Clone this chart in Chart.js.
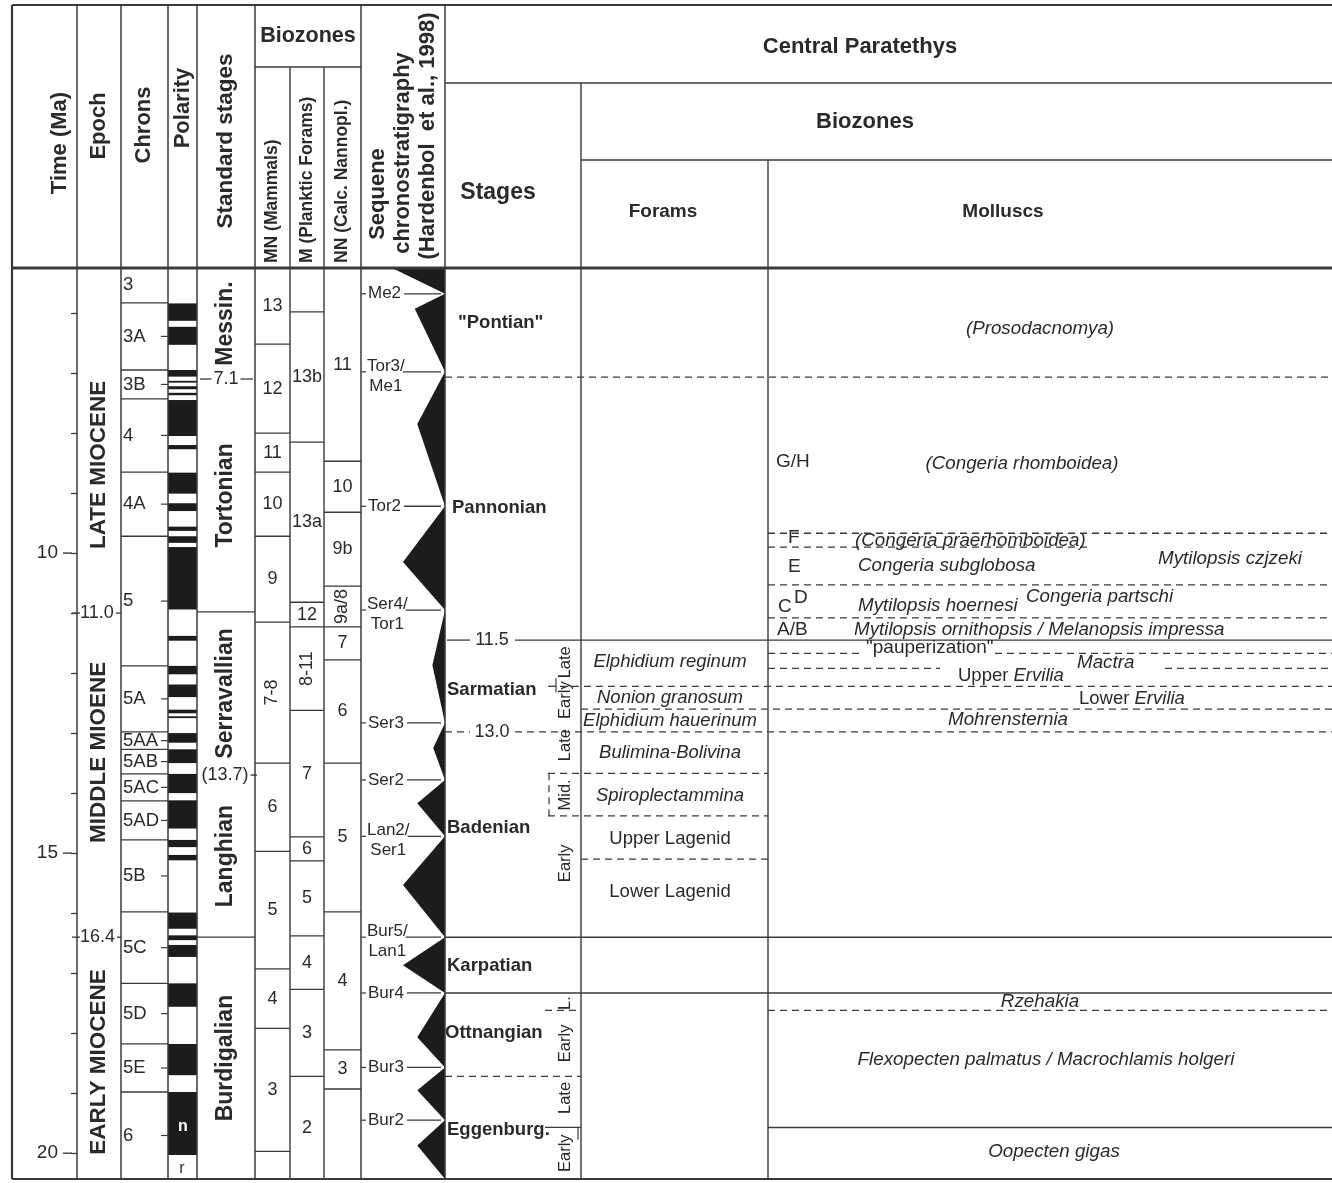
<!DOCTYPE html>
<html><head><meta charset="utf-8"><title>Miocene stratigraphy - Central Paratethys</title>
<script src="https://cdn.jsdelivr.net/npm/chart.js@4.4.1/dist/chart.umd.min.js"></script>
<style>html,body{margin:0;padding:0;background:#fff;}#c{display:block;}</style>
</head><body>
<canvas id="c" width="1332" height="1183" style="width:1332px;height:1183px"></canvas>
<script>
// ===================== DATA (ages in Ma) =====================
const ageTop = 5.25;
const ageBase = 20.43;
const timeTicks = [6,7,8,9,10,11,12,13,14,15,16,17,18,19,20];
const timeTickLabels = [10, 15, 20];
const markedAges = [11.0, 16.4];
const markedAgeLabels = ['11.0', '16.4'];

const epochNames = ['LATE MIOCENE', 'MIDDLE MIOENE', 'EARLY MIOCENE'];
const epochLabelAges = [8.53, 13.32, 18.48];

const chronNames = ['3','3A','3B','4','4A','5','5A','5AA','5AB','5AC','5AD','5B','5C','5D','5E','6'];
const chronBases = [5.83, 6.95, 7.43, 8.65, 9.72, 11.88, 12.98, 13.27, 13.68, 14.13, 14.78, 15.98, 17.17, 18.18, 18.98, 20.43];

const normalTops  = [5.84, 6.23, 6.95, 7.13, 7.22, 7.33, 7.45, 8.20, 8.66, 9.17, 9.56, 9.72, 9.90, 11.38, 11.88, 12.19, 12.61, 12.72, 13.00, 13.27, 13.68, 14.12, 14.78, 15.03, 15.99, 16.37, 16.53, 17.17, 18.18, 18.98];
const normalBases = [6.13, 6.53, 7.06, 7.16, 7.27, 7.37, 8.05, 8.27, 9.01, 9.30, 9.63, 9.83, 10.94, 11.46, 12.02, 12.40, 12.67, 12.75, 13.16, 13.50, 14.00, 14.59, 14.90, 15.12, 16.26, 16.45, 16.73, 17.56, 18.70, 20.03];
const polarityNotes = ['n', 'r'];
const polarityNoteAges = [19.55, 20.25];

const stdStageNames = ['Messin.', 'Tortonian', 'Serravallian', 'Langhian', 'Burdigalian'];
const stdStageBases = [7.1, 10.98, 13.7, 16.4, 20.43];
const stdStageBaseLabels = ['7.1', '', '(13.7)', '', ''];

const mnNames = ['13','12','11','10','9','7-8','6','5','4','3',''];
const mnBases = [6.52, 8.0, 8.65, 9.72, 11.15, 13.5, 14.97, 16.93, 17.92, 19.97, 20.43];
const mNames  = ['','13b','13a','12','8-11','7','6','5','4','3','2'];
const mBases  = [5.98, 8.15, 10.82, 11.23, 12.62, 14.73, 15.13, 16.38, 17.27, 18.72, 20.43];
const nnNames = ['11','10','9b','9a/8','7','6','5','4','3',''];
const nnBases = [8.47, 9.32, 10.55, 11.23, 11.78, 13.5, 15.98, 18.28, 18.93, 20.43];
const rotatedZoneNames = ['7-8', '8-11', '9a/8'];

const seqNames = ['Me2', 'Tor3/\nMe1', 'Tor2', 'Ser4/\nTor1', 'Ser3', 'Ser2', 'Lan2/\nSer1', 'Bur5/\nLan1', 'Bur4', 'Bur3', 'Bur2'];
const seqAges  = [5.68, 6.98, 9.22, 10.95, 12.83, 13.78, 14.72, 16.4, 17.33, 18.57, 19.45];
const seqPeakAges = [5.25, 5.93, 7.85, 10.15, 11.87, 13.25, 14.17, 15.53, 16.87, 18.07, 18.95, 19.87];
const seqPeakAmps = [0.63, 0.36, 0.33, 0.50, 0.15, 0.14, 0.33, 0.50, 0.50, 0.33, 0.33, 0.33];

const parStageNames = ['"Pontian"', 'Pannonian', 'Sarmatian', 'Badenian', 'Karpatian', 'Ottnangian', 'Eggenburg.'];
const parStageLabelAges = [6.17, 9.25, 12.28, 14.58, 16.88, 18.0, 19.62];
const parStageBases = [7.07, 11.45, 12.98, 16.4, 17.33, 18.72, 20.43];
const parStageBaseLabels = ['', '11.5', '13.0', '', '', '', ''];

const subStageNames = ['Late', 'Early', 'Late', 'Mid.', 'Early', 'L.', 'Early', 'Late', 'Early'];
const subStageLabelAges = [11.82, 12.45, 13.2, 14.03, 15.17, 17.5, 18.17, 19.08, 20.0];
const subStageBases = [12.22, 13.67, 14.38, 17.62, 19.57];

const foramNames = ['Elphidium reginum', 'Nonion granosum', 'Elphidium hauerinum', 'Bulimina-Bolivina', 'Spiroplectammina', 'Upper Lagenid', 'Lower Lagenid'];
const foramLabelAges = [11.82, 12.42, 12.8, 13.33, 14.05, 14.77, 15.65];
const foramBases = [12.22, 12.6, 13.67, 14.38, 15.1];

const molluscNames = ['(Prosodacnomya)', 'G/H', '(Congeria rhomboidea)', 'F', '(Congeria praerhomboidea)', 'E',
  'Congeria subglobosa', 'Mytilopsis czjzeki', 'C', 'D', 'Mytilopsis hoernesi', 'Congeria partschi', 'A/B',
  'Mytilopsis ornithopsis / Melanopsis impressa', '"pauperization"', 'Mactra', 'Upper Ervilia', 'Lower Ervilia',
  'Mohrensternia', 'Rzehakia', 'Flexopecten palmatus / Macrochlamis holgeri', 'Oopecten gigas'];
const molluscLabelAges = [6.27, 8.48, 8.52, 9.75, 9.8, 10.23, 10.22, 10.1, 10.9, 10.75, 10.87, 10.73, 11.28, 11.27,
  11.58, 11.83, 12.05, 12.43, 12.78, 17.48, 18.45, 19.98];
const molluscBases = [9.67, 9.9, 10.53, 11.08, 11.67, 11.92, 17.62, 19.57];

// ===================== LAYOUT / STYLE =====================
const FF = '"Liberation Sans", Arial, Helvetica, sans-serif';
const INK = '#2a2a2a';
const LINE = '#3a3a3a';
const font = (size, style) => (style ? style + ' ' : '') + size + 'px ' + FF;
const SEQ_R = 445, SEQ_W = 84;
// x position + style for each mollusc label: [x, align, style]
const molluscPlace = [
  [1040,'center','italic'], [776,'left',''], [1022,'center','italic'], [788,'left',''], [855,'left','italic'], [788,'left',''],
  [858,'left','italic'], [1158,'left','italic'], [778,'left',''], [794,'left',''], [858,'left','italic'], [1026,'left','italic'],
  [777,'left',''], [854,'left','italic'], [866,'left',''], [1077,'left','italic'], [958,'left','mixed'], [1079,'left','mixed'],
  [948,'left','italic'], [1040,'center','italic'], [1046,'center','italic'], [1054,'center','italic']
];
const parStageX = [458, 452, 447, 447, 447, 445, 447];

// sawtooth (sequence stratigraphy) polygon vertices, built from the data
const sawPoints = [{x: SEQ_R, y: ageTop}];
seqPeakAges.forEach((a, i) => {
  sawPoints.push({x: SEQ_R - seqPeakAmps[i] * SEQ_W, y: a});
  if (i < seqAges.length) sawPoints.push({x: SEQ_R, y: seqAges[i]});
});
sawPoints.push({x: SEQ_R, y: ageBase});

const stratPlugin = {
  id: 'strat',
  afterDraw(chart) {
    const c = chart.ctx;
    const ys = chart.scales.y, xs = chart.scales.x;
    const Y = v => ys.getPixelForValue(v);
    const X = v => xs.getPixelForValue(v);
    const top = chart.chartArea.top, bot = chart.chartArea.bottom;

    const L = (x0, y0, x1, y1, w, dash, col) => {
      c.save(); c.strokeStyle = col || LINE; c.lineWidth = w || 1.3;
      c.setLineDash(dash ? [7, 5] : []);
      c.beginPath(); c.moveTo(x0, y0); c.lineTo(x1, y1); c.stroke(); c.restore();
    };
    const H = (age, x0, x1, dash, w) => L(X(x0), Y(age), X(x1), Y(age), w || 1.3, dash);
    const T = (s, x, y, f, align, col) => {
      c.save(); c.font = f; c.fillStyle = col || INK; c.textAlign = align || 'center'; c.textBaseline = 'middle';
      c.fillText(s, x, y); c.restore();
    };
    const R = (s, x, y, f, align, col) => {
      c.save(); c.translate(x, y); c.rotate(-Math.PI / 2); c.font = f; c.fillStyle = col || INK;
      c.textAlign = align || 'center'; c.textBaseline = 'middle'; c.fillText(s, 0, 0); c.restore();
    };
    const W = (s, f) => { c.save(); c.font = f; const w = c.measureText(s).width; c.restore(); return w; };

    // ---------- polarity (normal = black) ----------
    c.save(); c.fillStyle = '#1c1c1c';
    normalTops.forEach((t, i) => {
      const y0 = Y(t), y1 = Y(normalBases[i]);
      c.fillRect(X(168), y0, X(197) - X(168), y1 - y0);
    });
    c.restore();
    T(polarityNotes[0], X(183), Y(polarityNoteAges[0]), font(16, 'bold'), 'center', '#fff');
    T(polarityNotes[1], X(182), Y(polarityNoteAges[1]), font(16), 'center');

    // ---------- frame & header grid ----------
    L(X(12), 5, X(1332), 5, 2.2);
    L(X(12), bot, X(1332), bot, 2.2);
    L(X(12), 5, X(12), bot, 2.2);
    [77, 121, 168, 197, 255, 361, 445].forEach(x => L(X(x), 5, X(x), bot, 1.5));
    [290, 324].forEach(x => L(X(x), 67, X(x), bot, 1.4));
    L(X(255), 67, X(361), 67, 1.5);
    L(X(445), 83, X(1332), 83, 1.5);
    L(X(581), 83, X(581), bot, 1.4);
    L(X(581), 160, X(1332), 160, 1.5);
    L(X(768), 160, X(768), bot, 1.4);
    L(X(12), top, X(1332), top, 2.8);

    // header texts
    R('Time (Ma)', 60, 143, font(22, 'bold'));
    R('Epoch', 99, 126, font(22, 'bold'));
    R('Chrons', 144, 125, font(22, 'bold'));
    R('Polarity', 183, 108, font(22, 'bold'));
    R('Standard stages', 226, 141, font(22.5, 'bold'));
    T('Biozones', 308, 36, font(21.5, 'bold'));
    R('MN (Mammals)', 272, 263, font(17.5, 'bold'), 'left');
    R('M (Planktic Forams)', 307, 263, font(17.5, 'bold'), 'left');
    R('NN (Calc. Nannopl.)', 342, 263, font(17.5, 'bold'), 'left');
    R('Sequene', 378, 194, font(22, 'bold'));
    R('chronostratigraphy', 403, 153, font(22, 'bold'));
    R('(Hardenbol  et al., 1998)', 428, 136, font(22, 'bold'));
    T('Central Paratethys', 860, 47, font(22, 'bold'));
    T('Biozones', 865, 122, font(22, 'bold'));
    T('Stages', 498, 193, font(23, 'bold'));
    T('Forams', 663, 212, font(19, 'bold'));
    T('Molluscs', 1003, 212, font(19, 'bold'));

    // ---------- time axis extras ----------
    timeTickLabels.forEach(v => L(X(63), Y(v), X(72), Y(v), 1.4));
    markedAges.forEach((a, i) => {
      L(X(72), Y(a), X(80), Y(a), 1.3);
      T(markedAgeLabels[i], X(80), Y(a), font(18), 'left');
      const w = W(markedAgeLabels[i], font(18));
      L(X(80) + w + 2, Y(a), X(121), Y(a), 1.3);
    });

    // ---------- epochs ----------
    epochNames.forEach((n, i) => R(n, X(99), Y(epochLabelAges[i]), font(22.5, 'bold')));

    // ---------- chrons ----------
    let prev = ageTop;
    chronNames.forEach((n, i) => {
      const b = chronBases[i];
      if (i < chronNames.length - 1) H(b, 121, 168, false, 1.3);
      const ym = (Y(prev) + Y(b)) / 2;
      T(n, X(123), ym, font(18.5), 'left');
      if (i > 0) L(X(161), ym, X(168), ym, 1.2);
      prev = b;
    });

    // ---------- standard stages ----------
    prev = ageTop;
    stdStageNames.forEach((n, i) => {
      const b = stdStageBases[i];
      R(n, X(226), (Y(prev) + Y(b)) / 2, font(23, 'bold'));
      const lab = stdStageBaseLabels[i];
      if (i < stdStageNames.length - 1) {
        if (lab) {
          const f = font(18), w = W(lab, f), paren = lab.startsWith('('), cx = paren ? 225 : 226;
          T(lab, X(cx), Y(b), f);
          if (!paren) L(X(200), Y(b), X(cx) - w / 2 - 2, Y(b), 1.3);
          L(X(cx) + w / 2 + 2, Y(b), X(paren ? 257 : 253), Y(b), 1.3);
        } else H(b, 197, 255, false, 1.4);
      }
      prev = b;
    });

    // ---------- biozone columns ----------
    const zoneCol = (names, bases, x0, x1) => {
      let p = ageTop;
      names.forEach((n, i) => {
        const b = bases[i];
        if (i < names.length - 1) H(b, x0, x1, false, 1.3);
        const ym = (Y(p) + Y(b)) / 2, xm = (X(x0) + X(x1)) / 2;
        if (n) {
          if (rotatedZoneNames.includes(n)) R(n, xm, ym, font(18));
          else T(n, xm, ym, font(18));
        }
        p = b;
      });
    };
    zoneCol(mnNames, mnBases, 255, 290);
    zoneCol(mNames, mBases, 290, 324);
    zoneCol(nnNames, nnBases, 324, 361);

    // ---------- sequence stratigraphy labels ----------
    seqNames.forEach((n, i) => {
      const y = Y(seqAges[i]);
      const parts = n.split('\n');
      L(X(361), y, X(366), y, 1.2);
      const f = font(17);
      if (parts.length === 1) {
        T(parts[0], X(368), y, f, 'left');
        L(X(368) + W(parts[0], f) + 3, y, X(441), y, 1.3);
      } else {
        T(parts[0], X(367), y - 6, f, 'left');
        T(parts[1], X(367) + W(parts[0], f) / 2, y + 14, f, 'center');
        L(X(367) + W(parts[0], f) - 2, y, X(441), y, 1.3);
      }
    });

    // ---------- Central Paratethys stages ----------
    parStageNames.forEach((n, i) => T(n, X(parStageX[i]), Y(parStageLabelAges[i]), font(18.5, 'bold'), 'left'));
    H(parStageBases[0], 445, 1332, true);
    H(parStageBases[1], 447, 470, false); H(parStageBases[1], 515, 1332, false);
    H(parStageBases[2], 445, 470, true);  H(parStageBases[2], 515, 1332, true);
    H(parStageBases[3], 445, 1332, false, 1.5);
    H(parStageBases[4], 445, 1332, false, 1.5);
    H(parStageBases[5], 445, 581, true);
    [1, 2].forEach(i => T(parStageBaseLabels[i], X(492), Y(parStageBases[i]), font(18)));

    // sub-stages
    subStageNames.forEach((n, i) => R(n, X(565), Y(subStageLabelAges[i]), font(16.5)));
    H(subStageBases[0], 548, 556, false); H(subStageBases[0], 560, 1332, true);
    L(X(556), Y(subStageBases[0]) - 8, X(556), Y(subStageBases[0]) + 6, 1.2);
    H(subStageBases[1], 548, 768, true);
    H(subStageBases[2], 548, 768, true);
    L(X(549), Y(subStageBases[1]), X(549), Y(subStageBases[2]), 1.2, true);
    H(subStageBases[3], 545, 581, true);
    H(subStageBases[4], 545, 581, false);
    L(X(578), Y(subStageBases[4]), X(578), Y(subStageBases[4]) + 12, 1.2);

    // forams
    foramBases.forEach(b => { if (!subStageBases.includes(b)) H(b, 581, b === foramBases[1] ? 1332 : 768, true); });
    foramNames.forEach((n, i) => {
      const st = /Lagenid/.test(n) ? '' : 'italic';
      T(n, X(670), Y(foramLabelAges[i]), font(18.5, st));
    });

    // molluscs
    H(molluscBases[0], 768, 1332, true);
    H(molluscBases[1], 768, 1092, true);
    H(molluscBases[2], 768, 1332, true);
    H(molluscBases[3], 768, 1332, true);
    H(molluscBases[4], 768, 862, true); H(molluscBases[4], 995, 1332, true);
    H(molluscBases[5], 768, 940, true); H(molluscBases[5], 1165, 1332, true);
    H(molluscBases[6], 768, 1332, true);
    H(molluscBases[7], 768, 1332, false, 1.5);
    molluscNames.forEach((n, i) => {
      const [x, align, st] = molluscPlace[i];
      const y = Y(molluscLabelAges[i]);
      if (st === 'mixed') {
        const sp = n.indexOf(' ');
        const a = n.slice(0, sp + 1), b = n.slice(sp + 1);
        T(a, X(x), y, font(18.5), 'left');
        T(b, X(x) + W(a, font(18.5)), y, font(18.5, 'italic'), 'left');
      } else {
        T(n, X(x), y, font(st === 'italic' ? 18.8 : 19, st), align);
      }
    });
  }
};

new Chart(document.getElementById('c'), {
  type: 'line',
  data: {
    datasets: [{
      label: 'Sequence stratigraphy',
      data: sawPoints,
      fill: 'shape',
      backgroundColor: '#1c1c1c',
      borderColor: '#1c1c1c',
      borderWidth: 0,
      pointRadius: 0,
      tension: 0
    }]
  },
  options: {
    responsive: false,
    animation: false,
    devicePixelRatio: 1,
    layout: { padding: { top: 268, bottom: 4, left: 0, right: 0 } },
    plugins: { legend: { display: false }, tooltip: { enabled: false } },
    scales: {
      x: { type: 'linear', min: 77, max: 1332, display: false },
      y: {
        type: 'linear', reverse: true, min: ageTop, max: ageBase, position: 'left',
        afterBuildTicks: s => { s.ticks = timeTicks.map(v => ({ value: v })); },
        afterFit: s => { s.width = 77; s.paddingTop = 0; s.paddingBottom = 0; s.paddingLeft = 0; s.paddingRight = 0; },
        ticks: {
          autoSkip: false,
          callback: v => timeTickLabels.includes(v) ? String(v) : '',
          font: { family: FF, size: 19 },
          color: INK,
          padding: 13
        },
        grid: { display: true, drawOnChartArea: false, drawTicks: true, tickLength: 6, color: LINE, tickWidth: 1.3 },
        border: { display: false }
      }
    }
  },
  plugins: [stratPlugin]
});
</script>
</body></html>
